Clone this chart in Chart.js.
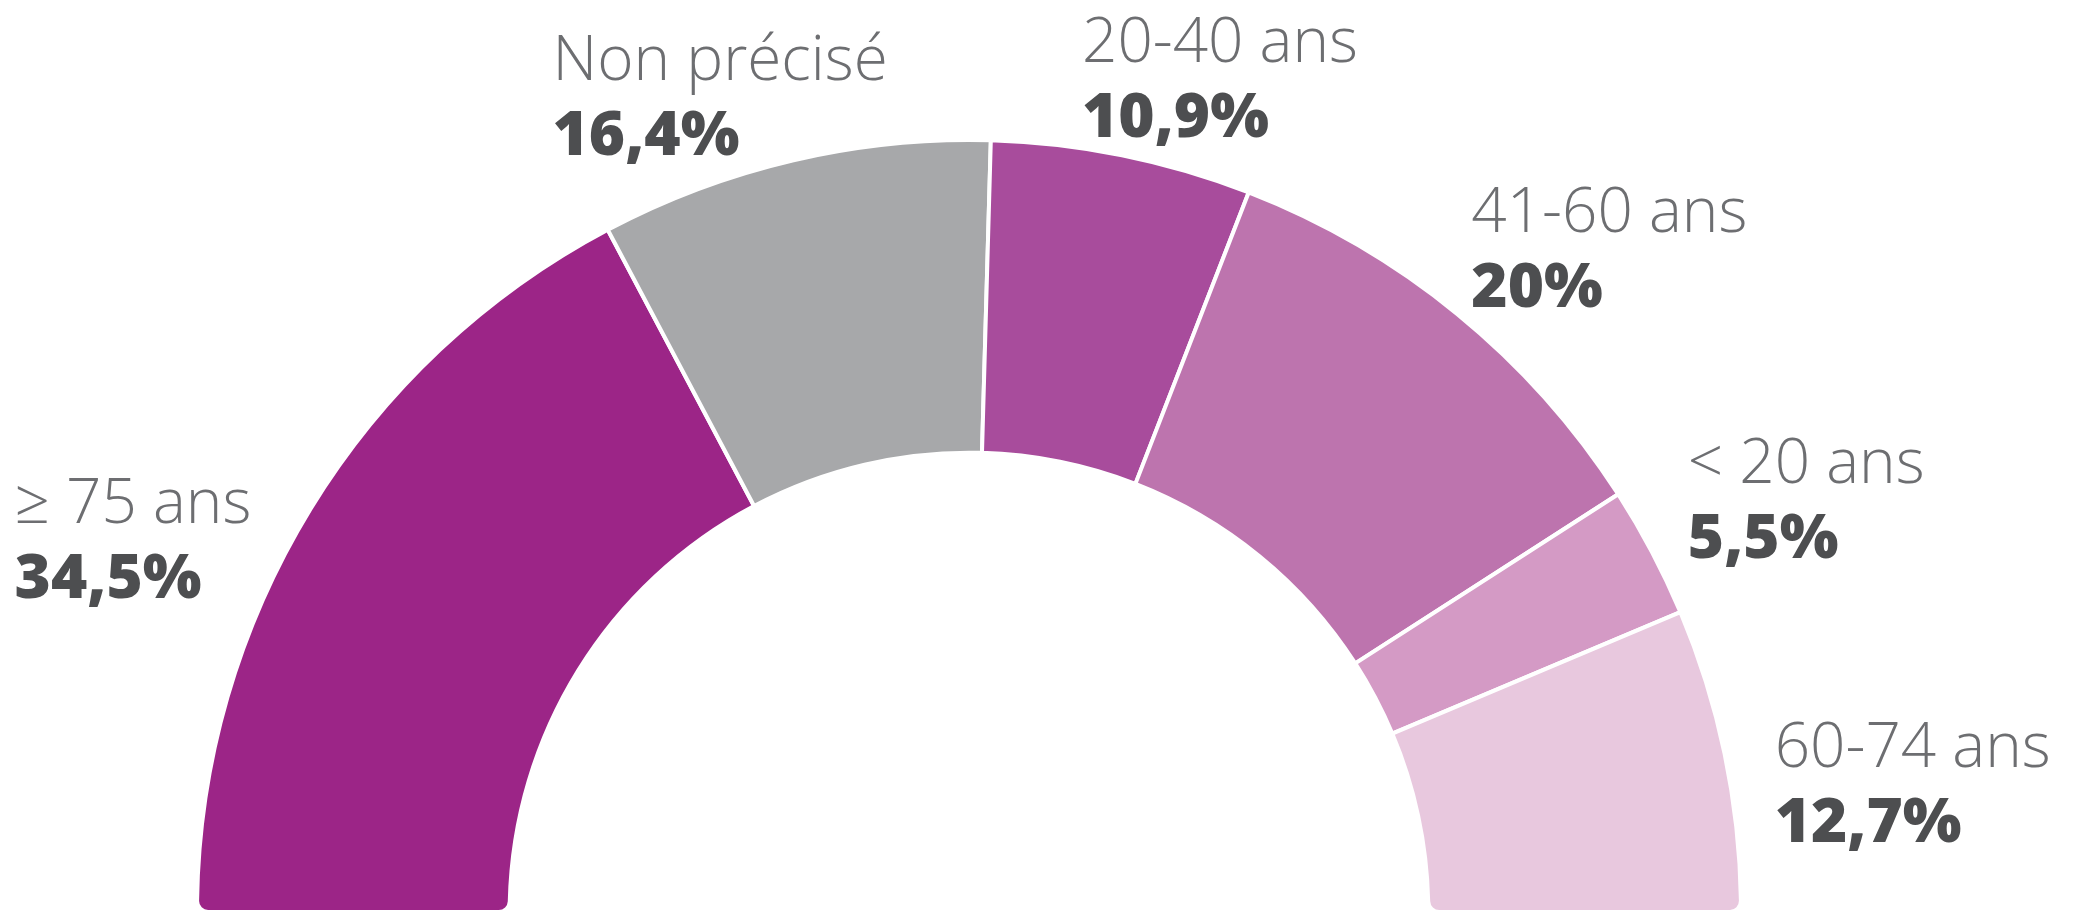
<!DOCTYPE html>
<html>
<head>
<meta charset="utf-8">
<script src="https://cdn.jsdelivr.net/npm/chart.js@4"></script>
<style>
  html, body { margin: 0; padding: 0; background: #fff; }
  #wrap { width: 2078px; height: 915px; }
</style>
</head>
<body>
<div id="wrap"><canvas id="graphAges"></canvas></div>
<script>
const categories = ['≥ 75 ans', 'Non précisé', '20-40 ans', '41-60 ans', '< 20 ans', '60-74 ans'];
const shares = [34.5, 16.4, 10.9, 20, 5.5, 12.7];
const colors = ['#9c2587', '#a7a8aa', '#a84c9c', '#bd74ae', '#d49ac5', '#e8c8de'];

// where each label sits relative to the outer middle of its slice
const labelOffsets = [[-293, 9], [-241, -80], [-40, -93], [14, -82], [36, -69], [49, 8]];

function frPercent(v) {
	return String(v).replace('.', ',') + '%';
}

const outsideLabels = {
	id: 'outsideLabels',
	afterDatasetsDraw(chart) {
		const ctx = chart.ctx;
		const meta = chart.getDatasetMeta(0);
		ctx.save();
		ctx.textAlign = 'left';
		ctx.textBaseline = 'alphabetic';
		meta.data.forEach((arc, i) => {
			const mid = (arc.startAngle + arc.endAngle) / 2;
			const x = arc.x + Math.cos(mid) * arc.outerRadius + labelOffsets[i][0];
			const y = arc.y + Math.sin(mid) * arc.outerRadius + labelOffsets[i][1];
			ctx.fillStyle = '#6d6e71';
			ctx.font = '300 62px "Open Sans"';
			ctx.fillText(categories[i], x, y);
			ctx.fillStyle = '#4d4e50';
			ctx.font = '800 62px "Open Sans"';
			ctx.fillText(frPercent(shares[i]), x, y + 75);
		});
		ctx.restore();
	}
};

const ends = 11;

const chart = new Chart(document.getElementById('graphAges'), {
	type: 'doughnut',
	data: {
		labels: categories,
		datasets: [{
			data: shares,
			backgroundColor: colors,
			borderColor: '#ffffff',
			borderWidth: 4,
			borderRadius: (c) => {
				if (c.dataIndex === 0) return { outerStart: ends, innerStart: ends, outerEnd: 0, innerEnd: 0 };
				if (c.dataIndex === shares.length - 1) return { outerStart: 0, innerStart: 0, outerEnd: ends, innerEnd: ends };
				return 0;
			}
		}]
	},
	options: {
		responsive: true,
		maintainAspectRatio: false,
		animation: false,
		rotation: -90,
		circumference: 180,
		cutout: '59.5%',
		layout: { padding: { left: 195, right: 335, top: 138, bottom: 1 } },
		plugins: {
			legend: { display: false },
			tooltip: { enabled: false }
		}
	},
	plugins: [outsideLabels]
});
</script>
</body>
</html>
